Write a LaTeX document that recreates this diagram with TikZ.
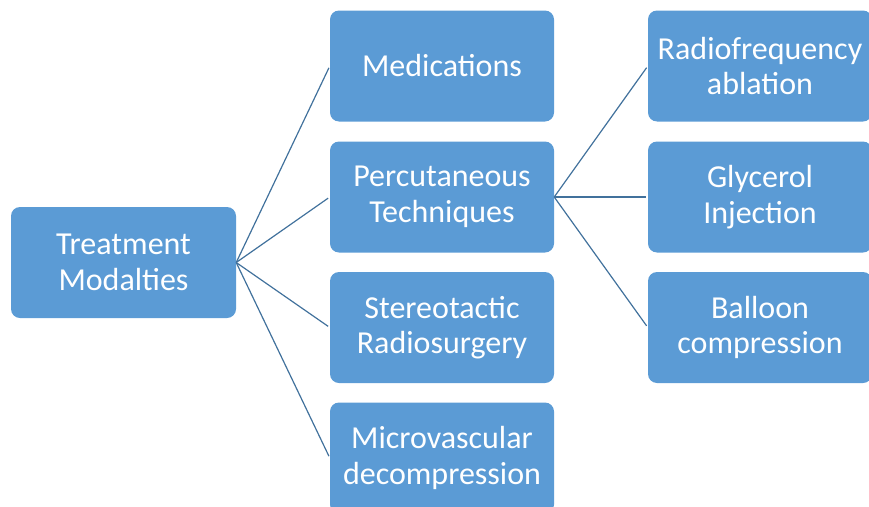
\documentclass[tikz,border=0pt]{standalone}
\usepackage{fontspec}
\setmainfont{Carlito}
\definecolor{boxblue}{HTML}{5B9BD5}
\definecolor{lineblue}{HTML}{41719C}
\begin{document}
\begin{tikzpicture}[x=1pt,y=-1pt,
  blok/.style={fill=boxblue,rounded corners=9pt,minimum width=224pt,minimum height=111pt,
    text=white,align=center,font=\fontsize{32}{35.5}\selectfont,inner sep=0pt},
  link/.style={draw=lineblue,line width=1.2pt,shorten >=2pt}]
\useasboundingbox (0,0) rectangle (869,506);
\clip (0,0) rectangle (869,506);

\node[blok,minimum width=225pt] (treat) at (123.5,262.5) {Treatment\\Modalties};

\node[blok] (med) at (442,66) {Medications};
\node[blok] (perc) at (442,197) {Percutaneous\\Techniques};
\node[blok] (stereo) at (442,327.5) {Stereotactic\\Radiosurgery};
\node[blok] (micro) at (442,458) {Microvascular\\decompression};

\node[blok] (radio) at (760,66) {Radiofrequency\\ablation};
\node[blok] (glyc) at (760,197) {Glycerol\\Injection};
\node[blok] (ball) at (760,327.5) {Balloon\\compression};

\draw[link] (treat.east) -- (med.west);
\draw[link] (treat.east) -- (perc.west);
\draw[link] (treat.east) -- (stereo.west);
\draw[link] (treat.east) -- (micro.west);

\draw[link] (perc.east) -- (radio.west);
\draw[link] (perc.east) -- (glyc.west);
\draw[link] (perc.east) -- (ball.west);
\end{tikzpicture}
\end{document}
